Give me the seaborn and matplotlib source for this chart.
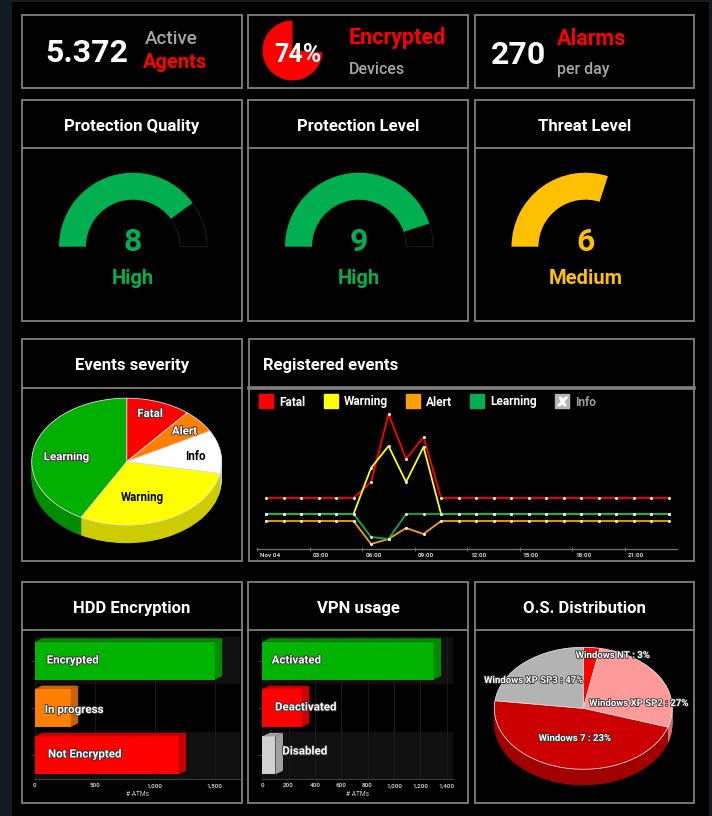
import numpy as np
import pandas as pd
import matplotlib
matplotlib.use("Agg")
import matplotlib.pyplot as plt
import matplotlib.transforms as mtransforms
import matplotlib.patheffects as pe
from matplotlib.patches import Rectangle, Polygon
from matplotlib.lines import Line2D
from matplotlib.legend_handler import HandlerTuple
import seaborn as sns

# ---------------- data ----------------
kpi_agents = "5.372"
kpi_encrypted_pct = 74
kpi_alarms = "270"

gauge_titles = ["Protection Quality", "Protection Level", "Threat Level"]
gauge_values = [8, 9, 6]
gauge_levels = ["High", "High", "Medium"]
gauge_colors = ["#00b050", "#00b050", "#ffc000"]

severity_names = ["Fatal", "Alert", "Info", "Warning", "Learning"]
severity_share = [11, 6, 11, 30, 42]
severity_colors = ["#ff0000", "#ff8000", "#ffffff", "#ffff00", "#00b000"]
severity_sides = ["#c80000", "#c86400", "#c8c8c8", "#cccc00", "#008c00"]
severity_text = ["white", "white", "black", "black", "white"]

event_hours = [0.5, 1.5, 2.5, 3.5, 4.5, 5.5, 6.5, 7.5, 8.5, 9.5, 10.5, 11.5,
               12.5, 13.5, 14.5, 15.5, 16.5, 17.5, 18.5, 19.5, 20.5, 21.5, 22.5, 23.5]
events_fatal = [51, 51, 51, 51, 51, 51, 67, 135, 90, 112, 51, 51,
                51, 51, 51, 51, 51, 51, 51, 51, 51, 51, 51, 51]
events_warning = [35, 35, 35, 35, 35, 35, 81, 103, 67, 102, 35, 35,
                  35, 35, 35, 35, 35, 35, 35, 35, 35, 35, 35, 35]
events_alert = [28, 28, 28, 28, 28, 28, 5, 10, 21, 15, 28, 28,
                28, 28, 28, 28, 28, 28, 28, 28, 28, 28, 28, 28]
events_learning = [35, 35, 35, 35, 35, 35, 12, 10, 35, 35, 35, 35,
                   35, 35, 35, 35, 35, 35, 35, 35, 35, 35, 35, 35]
event_series = ["Fatal", "Warning", "Alert", "Learning"]
event_colors = ["#ff0000", "#ffff00", "#ffa000", "#00b050"]
event_ticks = [0, 3, 6, 9, 12, 15, 18, 21]
event_ticklabels = ["Nov 04", "03:00", "06:00", "09:00", "12:00", "15:00", "18:00", "21:00"]

hdd_labels = ["Encrypted", "In progress", "Not Encrypted"]
hdd_values = [1500, 300, 1200]
hdd_colors = ["#00b400", "#ff8000", "#ff0000"]
hdd_sides = ["#008c00", "#c86400", "#c80000"]
hdd_ticks = [0, 500, 1000, 1500]

vpn_labels = ["Activated", "Deactivated", "Disabled"]
vpn_values = [1300, 300, 100]
vpn_colors = ["#00b400", "#ff0000", "#d0d0d0"]
vpn_sides = ["#008c00", "#c80000", "#a0a0a0"]
vpn_ticks = [0, 200, 400, 600, 800, 1000, 1200, 1400]

os_labels = ["Windows NT : 3%", "Windows XP SP2 : 27%", "Windows 7 : 23%", "Windows XP SP3 : 47%"]
os_share = [3, 27, 47, 23]
os_colors = ["#ff0000", "#ff9a9a", "#cc0000", "#b3b3b3"]
os_sides = ["#c00000", "#cc7070", "#a00000", "#8a8a8a"]

# ---------------- figure ----------------
W, H = 712, 816
plt.rcParams["font.family"] = ["Roboto", "DejaVu Sans"]
plt.rcParams["font.weight"] = "bold"

fig = plt.figure(figsize=(W / 100, H / 100), dpi=100, facecolor="#121b21")
PIX = mtransforms.Affine2D().scale(1 / W, -1 / H).translate(0, 1) + fig.transFigure


def px_axes(x0, y0, x1, y1):
    ax = fig.add_axes([x0 / W, 1 - y1 / H, (x1 - x0) / W, (y1 - y0) / H])
    ax.set_facecolor("none")
    return ax


bg = fig.add_axes([0, 0, 1, 1])
bg.set_xlim(0, W)
bg.set_ylim(H, 0)
bg.axis("off")
bg.add_patch(Rectangle((12, 2), 697, 814, color="black", lw=0))

BORDER = "#808080"


def box(x0, y0, x1, y1, header=None, lw=1.3):
    bg.add_patch(Rectangle((x0, y0), x1 - x0, y1 - y0, fc="black", ec=BORDER, lw=lw))
    if header is not None:
        bg.plot([x0, x1], [y0 + header, y0 + header], color=BORDER, lw=lw)


cols = [(22, 242), (248, 468), (475, 694)]
for x0, x1 in cols:
    box(x0, 15, x1, 88)
    box(x0, 100, x1, 321, header=48)
    box(x0, 582, x1, 803, header=48)
box(22, 339, 242, 561, header=49)
box(249, 339, 694, 561, header=49)
bg.plot([249, 694], [388, 388], color=BORDER, lw=2.6)

HEAD = 12

# ---------------- KPI row ----------------
bg.text(45, 62, kpi_agents, color="white", fontsize=23, va="baseline")
bg.text(145, 44, "Active", color="#a6a6a6", fontsize=13.5, va="baseline", weight="medium")
bg.text(143, 68, "Agents", color="#ff0000", fontsize=14.5, va="baseline")
bg.text(349, 44, "Encrypted", color="#ff0000", fontsize=15.5, va="baseline")
bg.text(349, 74, "Devices", color="#a6a6a6", fontsize=11.5, va="baseline", weight="medium")
bg.text(491, 64, kpi_alarms, color="white", fontsize=23, va="baseline")
bg.text(557, 45, "Alarms", color="#ff0000", fontsize=15.5, va="baseline")
bg.text(557, 74, "per day", color="#a6a6a6", fontsize=11.5, va="baseline", weight="medium")

ax_kpi = px_axes(262.5, 20.5, 322.5, 80.5)
ax_kpi.pie([kpi_encrypted_pct, 100 - kpi_encrypted_pct], colors=["#ff0000", "none"],
           startangle=90, counterclock=True, wedgeprops=dict(linewidth=0))
ax_kpi.set_xlim(-1, 1)
ax_kpi.set_ylim(-1, 1)
ax_kpi.text(298, 61.5, f"{kpi_encrypted_pct}%", transform=PIX, color="white",
            fontsize=18, ha="center", va="baseline")

# ---------------- gauges ----------------
track_edges = ["#07301a", "#07301a", "#000000"]
R = 74
for i, (x0, x1) in enumerate(cols):
    cx = (x0 + x1) / 2 + 1
    cy = 246.7
    bg.text((x0 + x1) / 2, 131, gauge_titles[i], color="white", fontsize=HEAD,
            ha="center", va="baseline")
    ax = px_axes(cx - R, cy - R, cx + R, cy + R)
    v = gauge_values[i]
    wedges, _ = ax.pie([v, 10 - v, 10], colors=[gauge_colors[i], "black", "none"],
                       startangle=180, counterclock=False,
                       wedgeprops=dict(width=27 / 74, linewidth=0))
    wedges[1].set_edgecolor(track_edges[i])
    wedges[1].set_linewidth(0.6)
    ax.set_xlim(-1, 1)
    ax.set_ylim(-1, 1)
    ax.text(cx, 251, str(v), transform=PIX, color=gauge_colors[i], fontsize=23,
            ha="center", va="baseline")
    ax.text(cx, 283.5, gauge_levels[i], transform=PIX, color=gauge_colors[i],
            fontsize=14.5, ha="center", va="baseline")


# ---------------- 3D pies ----------------
def pie3d(ax, values, colors, sides, depth):
    for k in np.linspace(depth, 0, 30)[:-1]:
        ax.pie(values, colors=sides, startangle=90, counterclock=False,
               center=(0, -k), wedgeprops=dict(linewidth=0))
    ax.pie(values, colors=colors, startangle=90, counterclock=False,
           wedgeprops=dict(linewidth=0.6, edgecolor="#dcdcdc"))
    ax.set_aspect("auto")


def pie_axes(cx, cy, a, b, depth_px):
    m = 1.05
    ax = px_axes(cx - a * m, cy - b * m, cx + a * m, cy + b * m + depth_px)
    return ax, depth_px / b, m


outline = [pe.withStroke(linewidth=1.2, foreground="#333333")]

bg.text(132, 370, "Events severity", color="white", fontsize=HEAD, ha="center", va="baseline")
ax_sev, d, m = pie_axes(126.7, 461.7, 95, 63.5, 18)
pie3d(ax_sev, severity_share, severity_colors, severity_sides, d)
ax_sev.set_xlim(-m, m)
ax_sev.set_ylim(-m - d, m)
sev_label_pos = [(150, 413.5), (184.5, 431), (195, 456.7), (142.5, 498), (66.5, 456.7)]
for name, (tx, ty), tc in zip(severity_names, sev_label_pos, severity_text):
    ax_sev.text(tx, ty, name, transform=PIX, color=tc, fontsize=8.3, ha="center",
                va="center", path_effects=outline if tc == "white" else None)

bg.text(584.5, 613, "O.S. Distribution", color="white", fontsize=HEAD, ha="center", va="baseline")
ax_os, d, m = pie_axes(583.3, 708.3, 89, 61, 16)
pie3d(ax_os, os_share, os_colors, os_sides, d)
ax_os.set_xlim(-m, m)
ax_os.set_ylim(-m - d, m)
os_label_pos = [(613, 655), (639, 703), (575, 738), (534, 680)]
for name, (tx, ty) in zip(os_labels, os_label_pos):
    ax_os.text(tx, ty, name, transform=PIX, color="white", fontsize=6.9, ha="center",
               va="center", path_effects=outline)

# ---------------- registered events ----------------
bg.text(263, 370, "Registered events", color="white", fontsize=HEAD, ha="left", va="baseline")
ev = pd.DataFrame({
    "hour": event_hours * 4,
    "value": events_fatal + events_warning + events_alert + events_learning,
    "series": sum([[s] * 24 for s in event_series], []),
})
ax_ev = px_axes(257.3, 410, 677.3, 549)
sns.lineplot(data=ev, x="hour", y="value", hue="series", hue_order=event_series,
             palette=event_colors, linewidth=1.3, estimator=None, legend=False, ax=ax_ev)
sns.scatterplot(data=ev, x="hour", y="value", color="#e6e6e6", s=5, linewidth=0,
                zorder=5, ax=ax_ev)
ax_ev.set_xlim(0, 24)
ax_ev.set_ylim(0, 139)
ax_ev.set_xlabel("")
ax_ev.set_ylabel("")
ax_ev.set_yticks([])
for sp in ["left", "right", "top"]:
    ax_ev.spines[sp].set_visible(False)
ax_ev.spines["bottom"].set_color("#6e6e6e")
ax_ev.spines["bottom"].set_linewidth(1.0)
ax_ev.set_xticks(event_ticks)
ax_ev.set_xticklabels(event_ticklabels)
ax_ev.tick_params(axis="x", colors="#6e6e6e", length=3, width=0.8, pad=1.5,
                  labelsize=4.6, labelcolor="#d0d0d0", direction="inout")
shift = mtransforms.ScaledTranslation(3 / 100, 0, fig.dpi_scale_trans)
for lab in ax_ev.get_xticklabels():
    lab.set_ha("left")
    lab.set_transform(lab.get_transform() + shift)

handles = [Line2D([], [], marker="s", ls="none", markersize=10.5, markerfacecolor=c,
                  markeredgecolor=c) for c in event_colors]
info_handle = (Line2D([], [], marker="s", ls="none", markersize=10.5,
                      markerfacecolor="#b4b4b4", markeredgecolor="#b4b4b4"),
               Line2D([], [], marker="$X$", ls="none", markersize=7,
                      markerfacecolor="white", markeredgecolor="white"))
leg = ax_ev.legend(handles + [info_handle], event_series + ["Info"],
                   handler_map={tuple: HandlerTuple(ndivide=1)},
                   loc="upper left", bbox_to_anchor=(259, 395.5), bbox_transform=PIX,
                   ncol=5, frameon=False, fontsize=8.6, handlelength=1.25,
                   handletextpad=0.45, columnspacing=1.5, borderpad=0, borderaxespad=0,
                   labelcolor=["white"] * 4 + ["#9a9a9a"])


# ---------------- 3D bars ----------------
def bars3d(ax, labels, values, colors, sides, xmax, ticks):
    sns.barplot(x=values, y=labels, hue=labels, palette=colors, legend=False,
                orient="h", width=0.8, saturation=1, linewidth=0, ax=ax, zorder=3)
    ax.set_xlim(0, xmax)
    ax.set_ylim(2.5, -0.5)
    ax.axhspan(-0.5, 0.5, color="#101010", zorder=0, lw=0)
    ax.axhspan(1.5, 2.5, color="#101010", zorder=0, lw=0)
    ax.set_xticks(ticks)
    ax.set_xticklabels([f"{t:,}" for t in ticks])
    ax.grid(axis="x", color="#1e1e1e", lw=0.6)
    ax.set_axisbelow(True)
    ax.tick_params(axis="x", length=0, pad=3, labelsize=4.6, labelcolor="#bbbbbb")
    ax.tick_params(axis="y", length=3, color="#3a3a3a", labelleft=False)
    ax.set_ylabel("")
    ax.set_xlabel("# ATMs", fontsize=4.8, color="#cccccc", labelpad=2)
    for sp in ["left", "right", "top"]:
        ax.spines[sp].set_visible(False)
    ax.spines["bottom"].set_color("#3c3c3c")
    inv = ax.transData.inverted()
    p0 = ax.transData.transform([[0, 0]])
    ddx, ddy = inv.transform(p0 + np.array([[7.5, 3.5]]))[0]
    bars = sorted([b for cont in ax.containers for b in cont], key=lambda p: p.get_y())
    for bar, c, s in zip(bars, colors, sides):
        x0 = bar.get_x()
        x1 = x0 + bar.get_width()
        yt = bar.get_y()
        yb = yt + bar.get_height()
        ax.add_patch(Polygon([(x1, yt), (x1, yb), (x1 + ddx, yb + ddy), (x1 + ddx, yt + ddy)],
                             closed=True, fc=s, lw=0, zorder=3))
        ax.add_patch(Polygon([(x0, yt), (x1, yt), (x1 + ddx, yt + ddy), (x0 + ddx, yt + ddy)],
                             closed=True, fc=s, lw=0, zorder=3))


bg.text(132, 613, "HDD Encryption", color="white", fontsize=HEAD, ha="center", va="baseline")
ax_hdd = px_axes(34.7, 637, 240, 779)
bars3d(ax_hdd, hdd_labels, hdd_values, hdd_colors, hdd_sides, 1711, hdd_ticks)
for name, (tx, ty) in zip(hdd_labels, [(46.7, 660), (44.7, 709.5), (48, 754)]):
    ax_hdd.text(tx, ty, name, transform=PIX, color="white", fontsize=8.3, ha="left",
                va="center", zorder=6, path_effects=outline)

bg.text(358, 613, "VPN usage", color="white", fontsize=HEAD, ha="center", va="baseline")
ax_vpn = px_axes(262.3, 637, 453, 779)
bars3d(ax_vpn, vpn_labels, vpn_values, vpn_colors, vpn_sides, 1448, vpn_ticks)
for name, (tx, ty) in zip(vpn_labels, [(271.7, 660), (275, 707), (282.3, 751)]):
    ax_vpn.text(tx, ty, name, transform=PIX, color="white", fontsize=8.3, ha="left",
                va="center", zorder=6, path_effects=outline)

fig.savefig("out.png", dpi=100, facecolor=fig.get_facecolor())
